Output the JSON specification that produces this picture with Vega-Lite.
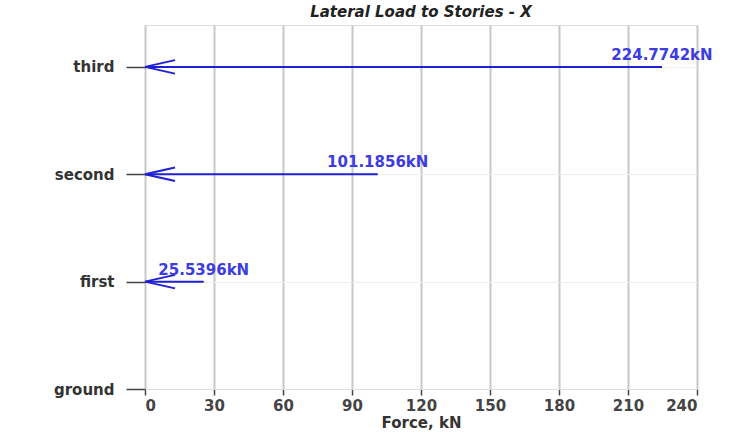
{
  "$schema": "https://vega.github.io/schema/vega-lite/v6.json",
  "width": 552,
  "height": 364,
  "autosize": {"type": "none"},
  "padding": {"left": 145, "top": 25, "right": 57, "bottom": 43},
  "background": "white",
  "title": {
    "text": "Lateral Load to Stories - X",
    "font": "DejaVu Sans",
    "fontSize": 15,
    "fontStyle": "italic",
    "fontWeight": "bold",
    "color": "#222222",
    "anchor": "middle",
    "offset": 5
  },
  "data": {
    "values": [
      {"story": "first", "level": 1, "force": 25.5396, "origin": 0, "label": "25.5396kN"},
      {"story": "second", "level": 2, "force": 101.1856, "origin": 0, "label": "101.1856kN"},
      {"story": "third", "level": 3, "force": 224.7742, "origin": 0, "label": "224.7742kN"}
    ]
  },
  "encoding": {
    "y": {
      "field": "level",
      "type": "quantitative",
      "scale": {"domain": [0, 3.39], "nice": false, "zero": false},
      "axis": {
        "title": null,
        "values": [0, 1, 2, 3],
        "labelExpr": "['ground','first','second','third'][datum.value]",
        "labelFont": "DejaVu Sans",
        "labelFontSize": 15,
        "labelFontWeight": "bold",
        "labelColor": "#333333",
        "labelPadding": 12,
        "tickSize": 19,
        "tickColor": "#444444",
        "tickWidth": 1.5,
        "domain": false,
        "grid": true,
        "gridColor": "#eeeeee",
        "gridWidth": 1
      }
    }
  },
  "layer": [
    {
      "mark": {"type": "rule", "color": "#1f1fd6", "strokeWidth": 2},
      "encoding": {
        "x": {
          "field": "origin",
          "type": "quantitative",
          "scale": {"domain": [0, 240], "nice": false},
          "axis": {
            "title": "Force, kN",
            "titleFont": "DejaVu Sans",
            "titleFontSize": 15,
            "titleFontWeight": "bold",
            "titleColor": "#333333",
            "titlePadding": 2,
            "values": [0, 30, 60, 90, 120, 150, 180, 210, 240],
            "labelFont": "DejaVu Sans",
            "labelFontSize": 15,
            "labelFontWeight": "bold",
            "labelColor": "#444444",
            "labelPadding": 3,
            "tickSize": 6,
            "tickWidth": 1.5,
            "tickColor": "#444444",
            "domainColor": "#dddddd",
            "grid": true,
            "gridColor": "#c8c8c8",
            "gridWidth": 2
          }
        },
        "x2": {"field": "force"}
      }
    },
    {
      "mark": {"type": "point", "shape": "M0,0L2,-0.45M0,0L2,0.45", "filled": false, "size": 900, "stroke": "#1f1fd6", "strokeWidth": 2, "opacity": 1},
      "encoding": {
        "x": {"field": "origin", "type": "quantitative"}
      }
    },
    {
      "mark": {"type": "text", "font": "DejaVu Sans", "fontSize": 15, "fontWeight": "bold", "color": "#3c3ce0", "align": "center", "baseline": "alphabetic", "dy": -7},
      "encoding": {
        "x": {"field": "force", "type": "quantitative"},
        "text": {"field": "label"}
      }
    }
  ]
}
